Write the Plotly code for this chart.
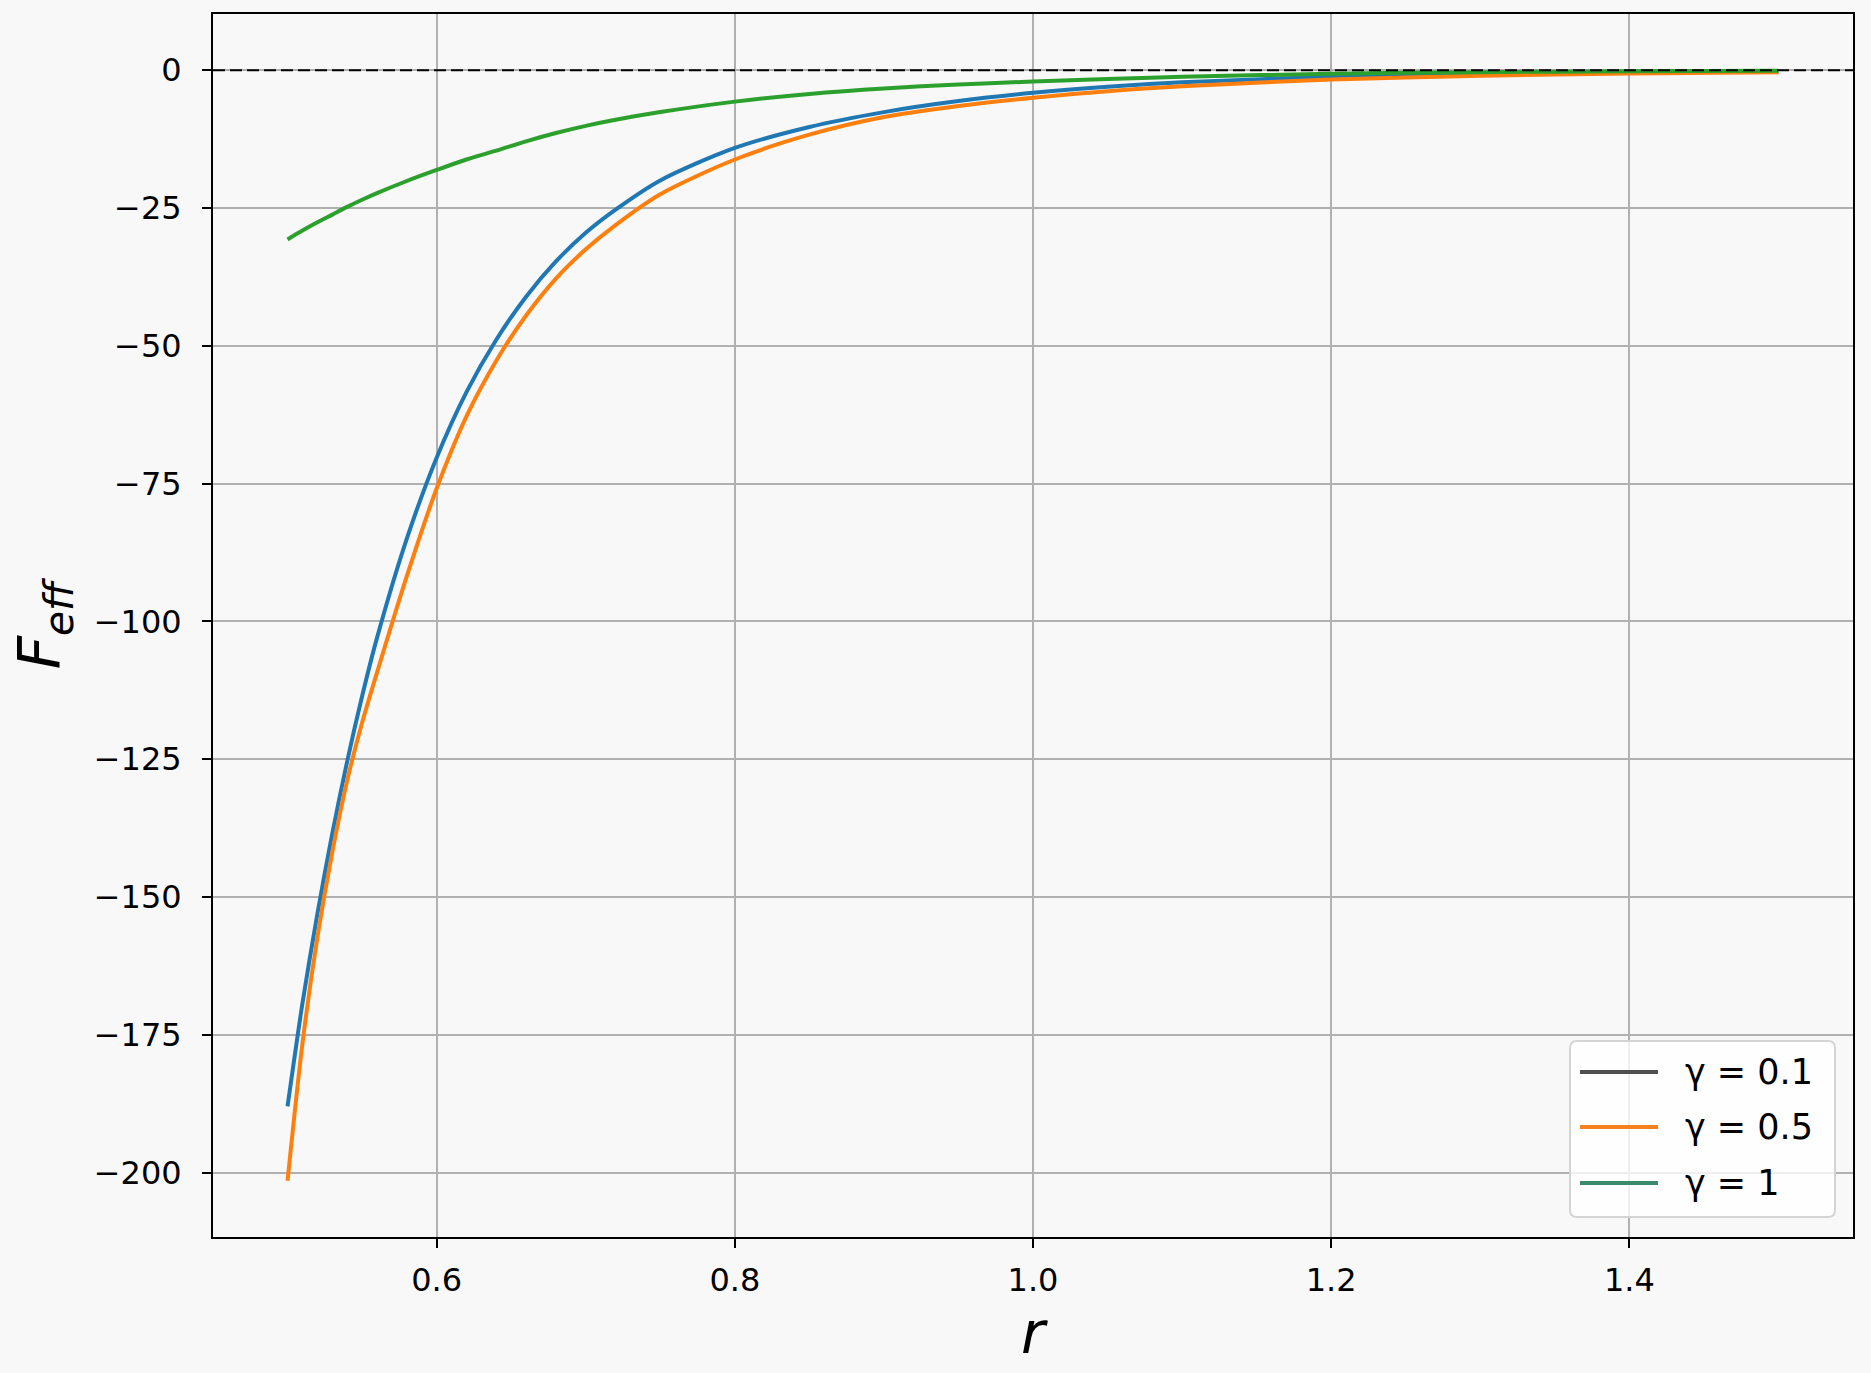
import plotly.graph_objects as go

# ---------------- data ----------------
r_values = [0.50, 0.51, 0.52, 0.53, 0.54, 0.55, 0.56, 0.58, 0.60, 0.62, 0.64,
            0.66, 0.68, 0.70, 0.72, 0.75, 0.80, 0.85, 0.90, 0.95, 1.00, 1.05,
            1.10, 1.20, 1.30, 1.40, 1.50]

f_gamma_01 = [-188.0, -169.3, -153.1, -138.5, -125.4, -113.6, -103.0, -85.0,
              -70.3, -58.4, -48.9, -41.1, -34.7, -29.5, -25.3, -20.0, -14.1,
              -10.3, -7.6, -5.6, -4.1, -3.0, -2.2, -1.2, -0.7, -0.4, -0.25]

f_gamma_05 = [-201.5, -176.6, -157.4, -141.9, -128.9, -118.4, -109.3, -91.8,
              -75.9, -62.8, -52.7, -44.5, -37.8, -32.5, -28.1, -22.5, -16.2,
              -11.7, -8.5, -6.5, -5.0, -3.8, -2.9, -1.7, -1.0, -0.6, -0.35]

f_gamma_1 = [-30.7, -29.1, -27.6, -26.2, -24.8, -23.5, -22.3, -20.1, -18.1,
             -16.2, -14.6, -12.9, -11.4, -10.1, -9.0, -7.6, -5.7, -4.3, -3.3,
             -2.6, -2.05, -1.6, -1.2, -0.65, -0.35, -0.2, -0.1]

series_names = ["γ = 0.1", "γ = 0.5", "γ = 1"]
series_values = [f_gamma_01, f_gamma_05, f_gamma_1]
line_colors = ["#1f77b4", "#ff7f0e", "#2ca02c"]
legend_colors = ["#505050", "#f5821f", "#3a8a6c"]

x_tick_vals = [0.6, 0.8, 1.0, 1.2, 1.4]
x_tick_text = ["0.6", "0.8", "1.0", "1.2", "1.4"]
y_tick_vals = [0, -25, -50, -75, -100, -125, -150, -175, -200]
y_tick_text = ["0", "−25", "−50", "−75", "−100", "−125", "−150", "−175", "−200"]

# ---------------- layout geometry ----------------
W, H = 1871, 1373
L, R, T, B = 213, 1853, 14, 1237
BG = "#f8f8f8"
FONT = "DejaVu Sans"


def px_to_paper(px, py):
    return (px - L) / (R - L), (B - py) / (B - T)


fig = go.Figure()

for name, vals, col in zip(series_names, series_values, line_colors):
    fig.add_trace(go.Scatter(
        x=r_values, y=vals, mode="lines", name=name,
        line=dict(color=col, width=4, shape="spline", smoothing=0.8),
        showlegend=False,
    ))

# horizontal dashed reference line at y = 0
fig.add_hline(y=0, line=dict(color="black", width=2, dash="12px,5px"), layer="above")

# ---------------- manual legend (matplotlib style) ----------------
bx0, by0, bx1, by1 = 1570, 1041, 1835, 1217
rad = 7
p = px_to_paper
path = "M {:.5f},{:.5f}".format(*p(bx0 + rad, by0))
path += " L {:.5f},{:.5f}".format(*p(bx1 - rad, by0))
path += " Q {:.5f},{:.5f} {:.5f},{:.5f}".format(*p(bx1, by0), *p(bx1, by0 + rad))
path += " L {:.5f},{:.5f}".format(*p(bx1, by1 - rad))
path += " Q {:.5f},{:.5f} {:.5f},{:.5f}".format(*p(bx1, by1), *p(bx1 - rad, by1))
path += " L {:.5f},{:.5f}".format(*p(bx0 + rad, by1))
path += " Q {:.5f},{:.5f} {:.5f},{:.5f}".format(*p(bx0, by1), *p(bx0, by1 - rad))
path += " L {:.5f},{:.5f}".format(*p(bx0, by0 + rad))
path += " Q {:.5f},{:.5f} {:.5f},{:.5f} Z".format(*p(bx0, by0), *p(bx0 + rad, by0))
fig.add_shape(type="path", path=path, xref="paper", yref="paper",
              fillcolor="rgba(255,255,255,0.8)", line=dict(color="#d4d4d4", width=2),
              layer="above")

row_y = [1072, 1127, 1183]
for name, col, yy in zip(series_names, legend_colors, row_y):
    x0p, y0p = px_to_paper(1580, yy)
    x1p, _ = px_to_paper(1658, yy)
    fig.add_shape(type="line", xref="paper", yref="paper", x0=x0p, x1=x1p,
                  y0=y0p, y1=y0p, line=dict(color=col, width=4), layer="above")
    tx, ty = px_to_paper(1683, yy)
    fig.add_annotation(x=tx, y=ty, xref="paper", yref="paper", text=name,
                       showarrow=False, xanchor="left", yanchor="middle",
                       font=dict(family=FONT, size=35, color="black"))

axis_common = dict(
    showgrid=True, gridcolor="#b0b0b0", gridwidth=2,
    showline=True, linecolor="black", linewidth=2, mirror=True,
    ticks="outside", ticklen=9, tickwidth=2, tickcolor="black",
    zeroline=False, tickfont=dict(family=FONT, size=32, color="black"),
)

fig.update_xaxes(range=[0.45, 1.55], tickmode="array", tickvals=x_tick_vals,
                 ticktext=x_tick_text, ticklabelstandoff=5,
                 title=dict(text="<i>r</i>", font=dict(family=FONT, size=58, color="black"),
                            standoff=14),
                 **axis_common)
fig.update_yaxes(range=[-211.7, 10.2], tickmode="array", tickvals=y_tick_vals,
                 ticktext=y_tick_text, ticklabelstandoff=14,
                 title=dict(text="<i>F</i><sub><i>eff</i></sub>",
                            font=dict(family=FONT, size=58, color="black"),
                            standoff=14),
                 **axis_common)

fig.update_layout(
    width=W, height=H, autosize=False,
    margin=dict(l=L, r=W - R, t=T, b=H - B, pad=0),
    paper_bgcolor=BG, plot_bgcolor=BG,
    showlegend=False,
    font=dict(family=FONT, color="black"),
)

fig.write_html(
    "out.html",
    config={"displayModeBar": False},
    post_script="document.body.style.margin='0';document.body.style.padding='0';"
                "document.body.style.background='" + BG + "';"
                "document.documentElement.style.overflow='hidden';",
)
